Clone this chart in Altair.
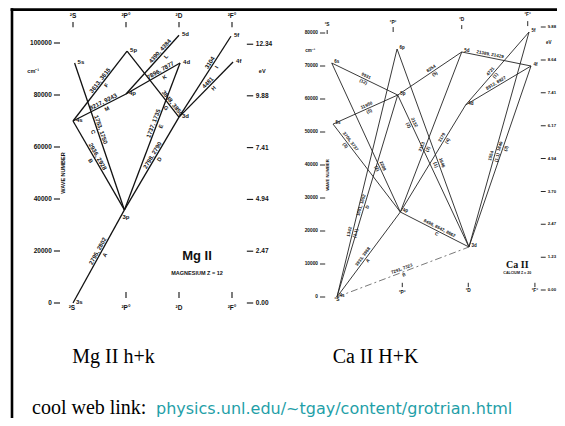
import math
import altair as alt
import pandas as pd

# ---------------- data: Mg II ----------------
mg_level_names = ["3s", "4s", "5s", "3p", "4p", "5p", "3d", "4d", "5d", "4f", "5f"]
mg_level_col = [0.0, 0.0, 0.03, 0.97, 1.0, 1.02, 2.0, 2.02, 2.0, 3.02, 2.98]
mg_level_wn = [0, 70000, 92300, 35800, 80400, 96900, 71500, 92300, 103000, 92700, 102600]

mg_tr_lo = ["3s", "3p", "3p", "3p", "3p", "4s", "3d", "3d", "3d", "4p", "4p", "4s"]
mg_tr_hi = ["3p", "4s", "5s", "3d", "4d", "5p", "5p", "4f", "5f", "4d", "5d", "4p"]
mg_tr_wl = ["2795, 2802", "2936, 2928", "1753, 1750", "2798, 2790", "1737, 1735", "3613, 3615",
            "3848, 3850", "4481", "3104", "7896, 7877", "4390, 4384", "9217, 9243"]
mg_tr_tag = ["A", "B", "C", "D", "E", "F", "G", "H", "I", "K", "L", "M"]
mg_tr_at = [0.54, 0.58, 0.54, 0.57, 0.58, 0.55, 0.18, 0.58, 0.65, 0.67, 0.69, 0.6]

mg_terms = ["²S", "²P°", "²D", "²F°"]
mg_wn_ticks = [0, 20000, 40000, 60000, 80000, 100000]
mg_ev_ticks = ["0.00", "2.47", "4.94", "7.41", "9.88", "12.34"]

# ---------------- data: Ca II ----------------
ca_level_names = ["4s", "5s", "6s", "4p", "5p", "6p", "3d", "4d", "5d", "4f", "5f"]
ca_level_col = [0.03, -0.03, -0.05, 1.0, 0.96, 0.95, 2.05, 2.0, 1.94, 3.0, 2.97]
ca_level_wn = [0, 52400, 70900, 25750, 61200, 75150, 15150, 58200, 74250, 70000, 80300]

ca_tr_lo = ["4s", "4s", "4p", "4s", "4s", "3d", "3d", "4p", "4p", "4p", "4p",
            "5s", "6s", "5p", "3d", "3d", "4d", "4d", "5d"]
ca_tr_hi = ["4p", "3d", "3d", "5p", "6p", "5p", "6p", "5s", "6s", "4d", "5d",
            "5p", "5p", "5d", "4f", "5f", "4f", "5f", "4f"]
ca_tr_wl = ["3933, 3968", "7291, 7323", "8498, 8542, 8662", "1651, 1652", "1342", "2132", "1646",
            "3706, 3737", "2208", "3179", "2113", "11950", "9931", "8254", "1840", "1554",
            "8912, 8927", "4721", "21389, 21429"]
ca_tr_sub = ["A", "B", "C", "D", "(1.1)", "(2)", "(1)", "(3)", "(2)", "(4)", "(2)",
             "(5)", "(12)", "(5)", "(3)", "(1.1)", "", "(1)", ""]
ca_tr_at = [0.45, 0.5, 0.55, 0.45, 0.26, 0.81, 0.42, 0.78, 0.3, 0.68, 0.4,
            0.54, 0.5, 0.55, 0.55, 0.42, 0.49, 0.43, 0.4]
ca_tr_dashed = [False, True] + [False] * 17

ca_terms = ["²S", "²P°", "²D", "²F°"]
ca_wn_ticks = [0, 10000, 20000, 30000, 40000, 50000, 60000, 70000, 80000]
ca_ev_ticks = ["0.00", "1.23", "2.47", "3.70", "4.94", "6.17", "7.41", "8.64", "9.88"]

captions = ["Mg II h+k", "Ca II H+K"]
link_lead = "cool web link: "
link_text = "physics.unl.edu/~tgay/content/grotrian.html"

# ---------------- layout ----------------
W, H = 549, 410
SANS = "Liberation Sans, Arial, sans-serif"
SERIF = "Liberation Serif, Times New Roman, serif"
INK = "#111111"

MG_XR = [65, 224]      # columns 0..3
MG_YR = [295, 35]      # 0..100000 cm-1
CA_XR = [327, 523]
CA_YR = [289, 25]      # 0..80000 cm-1
CA_EVR = [282, 19]     # 0..9.88 eV


def xs(r):
    return alt.Scale(domain=[0, 3], range=r, nice=False, zero=False)


def ys(dom, r):
    return alt.Scale(domain=dom, range=r, nice=False, zero=False)


def lines_df(names, cols, wns, lo, hi):
    lv = dict(zip(names, zip(cols, wns)))
    return pd.DataFrame({
        "x": [lv[a][0] for a in lo], "y": [lv[a][1] for a in lo],
        "x2": [lv[b][0] for b in hi], "y2": [lv[b][1] for b in hi],
    })


def line_labels(names, cols, wns, lo, hi, at, texts, kx, ky):
    lv = dict(zip(names, zip(cols, wns)))
    rows = []
    for a, b, t, s in zip(lo, hi, at, texts):
        (c1, w1), (c2, w2) = lv[a], lv[b]
        dxp, dyp = (c2 - c1) * kx, -(w2 - w1) * ky
        if dxp < 0:
            dxp, dyp = -dxp, -dyp
        ang = math.degrees(math.atan2(dyp, dxp))
        if ang < 0:
            ang += 360
        rows.append({"x": c1 + t * (c2 - c1), "y": w1 + t * (w2 - w1), "label": s, "ang": ang})
    return pd.DataFrame(rows)


def rules(df, xsc, ysc, width=1.2, color=INK, dash=None):
    kw = dict(color=color, strokeWidth=width)
    if dash:
        kw["strokeDash"] = dash
    return alt.Chart(df).mark_rule(**kw).encode(
        x=alt.X("x:Q", scale=xsc, axis=None), y=alt.Y("y:Q", scale=ysc, axis=None),
        x2="x2:Q", y2="y2:Q")


def texts(df, xsc, ysc, size, rotate=False, **kw):
    base = dict(font=SANS, fontSize=size, color=INK, fontWeight="bold")
    base.update(kw)
    enc = dict(x=alt.X("x:Q", scale=xsc, axis=None), y=alt.Y("y:Q", scale=ysc, axis=None),
               text=alt.Text("label:N"))
    if rotate:
        enc["angle"] = alt.Angle("ang:Q", scale=None)
    return alt.Chart(df).mark_text(**base).encode(**enc)


layers = []

# ======== Mg II diagram ========
mgx, mgy = xs(MG_XR), ys([0, 100000], MG_YR)
MG_KX = (MG_XR[1] - MG_XR[0]) / 3
MG_KY = (MG_YR[0] - MG_YR[1]) / 100000

layers.append(rules(lines_df(mg_level_names, mg_level_col, mg_level_wn, mg_tr_lo, mg_tr_hi),
                    mgx, mgy, width=1.3))
layers.append(texts(line_labels(mg_level_names, mg_level_col, mg_level_wn, mg_tr_lo, mg_tr_hi,
                                mg_tr_at, mg_tr_wl, MG_KX, MG_KY),
                    mgx, mgy, 6, rotate=True, dy=-3.5))
layers.append(texts(line_labels(mg_level_names, mg_level_col, mg_level_wn, mg_tr_lo, mg_tr_hi,
                                mg_tr_at, mg_tr_tag, MG_KX, MG_KY),
                    mgx, mgy, 5.5, rotate=True, dy=4.5))
mg_lv = pd.DataFrame({"x": mg_level_col, "y": mg_level_wn, "label": mg_level_names})
layers.append(texts(mg_lv[mg_lv.label != "3p"], mgx, mgy, 6, align="left", dx=3, dy=-1))
layers.append(texts(mg_lv[mg_lv.label == "3p"], mgx, mgy, 6, align="left", dx=-2, dy=7))

# term headers (top and bottom)
layers.append(texts(pd.DataFrame({"x": [0, 1, 2, 3], "y": [110400] * 4, "label": mg_terms}),
                    mgx, mgy, 6.5))
layers.append(rules(pd.DataFrame({"x": [0, 1, 2, 3], "y": [108100] * 4, "x2": [0, 1, 2, 3],
                                  "y2": [106100] * 4}), mgx, mgy, width=1.1))
layers.append(texts(pd.DataFrame({"x": [-0.02, 1, 2, 3], "y": [-1900] * 4, "label": mg_terms}),
                    mgx, mgy, 6.5))
layers.append(rules(pd.DataFrame({"x": [1, 2, 3], "y": [4200] * 3, "x2": [1, 2, 3],
                                  "y2": [1900] * 3}), mgx, mgy, width=1.1))
# wave-number axis
layers.append(texts(pd.DataFrame({"x": [-0.4] * 6, "y": mg_wn_ticks,
                                  "label": [str(v) for v in mg_wn_ticks]}),
                    mgx, mgy, 6.5, align="right"))
layers.append(rules(pd.DataFrame({"x": [-0.36] * 6, "x2": [-0.245] * 6, "y": mg_wn_ticks,
                                  "y2": mg_wn_ticks}), mgx, mgy, width=1.1))
# eV axis
mg_ev_wn = [float(v) * 8065.5 for v in mg_ev_ticks]
layers.append(texts(pd.DataFrame({"x": [3.45] * 6, "y": mg_ev_wn, "label": mg_ev_ticks}),
                    mgx, mgy, 6.5, align="left"))
layers.append(rules(pd.DataFrame({"x": [3.28] * 6, "x2": [3.40] * 6, "y": mg_ev_wn,
                                  "y2": mg_ev_wn}), mgx, mgy, width=1.1))
layers.append(texts(pd.DataFrame({"x": [-0.75, 3.57], "y": [89200, 89200], "label": ["cm⁻¹", "eV"]}),
                    mgx, mgy, 5.5))
layers.append(texts(pd.DataFrame({"x": [-0.19], "y": [50000], "label": ["WAVE NUMBER"]}),
                    mgx, mgy, 5.5, angle=270))
layers.append(texts(pd.DataFrame({"x": [2.34], "y": [17900], "label": ["Mg II"]}),
                    mgx, mgy, 13))
layers.append(texts(pd.DataFrame({"x": [2.34], "y": [11500], "label": ["MAGNESIUM  Z = 12"]}),
                    mgx, mgy, 5.5))

# ======== Ca II diagram ========
cax, cay = xs(CA_XR), ys([0, 80000], CA_YR)
CA_KX = (CA_XR[1] - CA_XR[0]) / 3
CA_KY = (CA_YR[0] - CA_YR[1]) / 80000

ca_lines = lines_df(ca_level_names, ca_level_col, ca_level_wn, ca_tr_lo, ca_tr_hi)
ca_lines["dashed"] = ca_tr_dashed
layers.append(rules(ca_lines[~ca_lines.dashed], cax, cay, width=0.9, color="#222222"))
layers.append(rules(ca_lines[ca_lines.dashed], cax, cay, width=0.8, color="#555555",
                    dash=[7, 3, 2, 3]))
layers.append(texts(line_labels(ca_level_names, ca_level_col, ca_level_wn, ca_tr_lo, ca_tr_hi,
                                ca_tr_at, ca_tr_wl, CA_KX, CA_KY),
                    cax, cay, 4.5, rotate=True, dy=-3))
layers.append(texts(line_labels(ca_level_names, ca_level_col, ca_level_wn, ca_tr_lo, ca_tr_hi,
                                ca_tr_at, ca_tr_sub, CA_KX, CA_KY),
                    cax, cay, 4.5, rotate=True, dy=3.5))
layers.append(texts(pd.DataFrame({"x": ca_level_col, "y": ca_level_wn, "label": ca_level_names}),
                    cax, cay, 4.5, align="left", dx=2.5, dy=-1))

ca_top_col = [-0.12, 0.89, 1.94, 2.95]
layers.append(texts(pd.DataFrame({"x": ca_top_col, "y": [82400, 83000, 83900, 85450],
                                  "label": ca_terms}), cax, cay, 4.8))
layers.append(rules(pd.DataFrame({"x": ca_top_col, "x2": ca_top_col,
                                  "y": [80900, 81800, 82400, 83600],
                                  "y2": [79700, 80300, 81200, 82100]}), cax, cay, width=0.9))
ca_bot_col = [0.03, 1.03, 2.04, 3.06]
layers.append(texts(pd.DataFrame({"x": ca_bot_col, "y": [-1000, 1300, 1700, 1700],
                                  "label": ca_terms}), cax, cay, 4.8))
layers.append(rules(pd.DataFrame({"x": ca_bot_col[1:], "x2": ca_bot_col[1:],
                                  "y": [4300] * 3, "y2": [3000] * 3}), cax, cay, width=0.9))
layers.append(texts(pd.DataFrame({"x": [-0.26] * 9, "y": ca_wn_ticks,
                                  "label": [str(v) for v in ca_wn_ticks]}),
                    cax, cay, 4.8, align="right"))
layers.append(rules(pd.DataFrame({"x": [-0.23] * 9, "x2": [-0.15] * 9, "y": ca_wn_ticks,
                                  "y2": ca_wn_ticks}), cax, cay, width=0.9))
caev = ys([0, 9.88], CA_EVR)
ca_ev_val = [float(v) for v in ca_ev_ticks]
layers.append(texts(pd.DataFrame({"x": [3.255] * 9, "y": ca_ev_val, "label": ca_ev_ticks}),
                    cax, caev, 4.3, align="left"))
layers.append(rules(pd.DataFrame({"x": [3.15] * 9, "x2": [3.225] * 9, "y": ca_ev_val,
                                  "y2": ca_ev_val}), cax, caev, width=0.9))
layers.append(texts(pd.DataFrame({"x": [-0.38, 3.27], "y": [74500, 77000], "label": ["cm⁻¹", "eV"]}),
                    cax, cay, 4.5))
layers.append(texts(pd.DataFrame({"x": [-0.11], "y": [37000], "label": ["WAVE NUMBER"]}),
                    cax, cay, 4.2, angle=270))
layers.append(texts(pd.DataFrame({"x": [2.79], "y": [9700], "label": ["Ca II"]}),
                    cax, cay, 10, font=SERIF))
layers.append(texts(pd.DataFrame({"x": [2.79], "y": [7300], "label": ["CALCIUM  Z = 20"]}),
                    cax, cay, 3.6))

# ======== slide frame and captions ========
one = pd.DataFrame({"k": [0]})
layers.append(alt.Chart(one).mark_rule(color="#000000", strokeWidth=2.8).encode(
    x=alt.value(2.6), x2=alt.value(W), y=alt.value(1.6), y2=alt.value(1.6)))
layers.append(alt.Chart(one).mark_rule(color="#000000", strokeWidth=2.6).encode(
    x=alt.value(4), x2=alt.value(4), y=alt.value(0.3), y2=alt.value(H)))
layers.append(alt.Chart(one).mark_text(font=SERIF, fontSize=20, color="#000000",
                                       align="center", baseline="alphabetic").encode(
    x=alt.value(105.5), y=alt.value(354.5), text=alt.value(captions[0])))
layers.append(alt.Chart(one).mark_text(font=SERIF, fontSize=20, color="#000000",
                                       align="center", baseline="alphabetic").encode(
    x=alt.value(367.5), y=alt.value(354.5), text=alt.value(captions[1])))
layers.append(alt.Chart(one).mark_text(font=SERIF, fontSize=20, color="#000000",
                                       align="left", baseline="alphabetic").encode(
    x=alt.value(24), y=alt.value(406), text=alt.value(link_lead)))
layers.append(alt.Chart(one).mark_text(font="DejaVu Sans", fontSize=16, color="#1fa0a8",
                                       align="left", baseline="alphabetic").encode(
    x=alt.value(148), y=alt.value(406), text=alt.value(link_text)))

chart = alt.layer(*layers).resolve_scale(x="independent", y="independent").properties(
    width=W, height=H, padding=0, autosize=alt.AutoSizeParams(type="none"),
    background="white",
).configure_view(stroke=None)

chart.save("out.html", embed_options={"renderer": "svg", "actions": False})
